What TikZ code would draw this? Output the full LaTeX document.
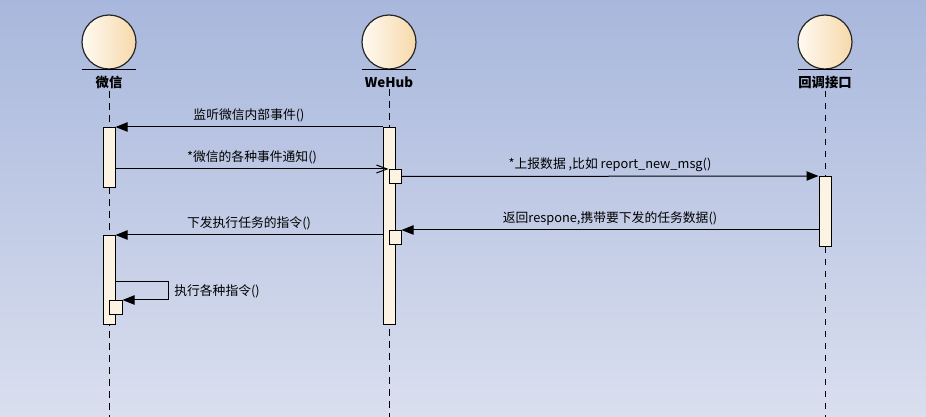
\documentclass[tikz,border=0pt]{standalone}
\usepackage{fontspec}
\setmainfont{Noto Sans CJK SC}
\usetikzlibrary{arrows.meta, positioning}
\definecolor{bgtop}{HTML}{A8B7DC}
\definecolor{bgbot}{HTML}{DADFEF}
\definecolor{headl}{HTML}{FFFAF2}
\definecolor{headr}{HTML}{F6D9AA}
\definecolor{actfill}{HTML}{FDF3E3}

\begin{document}
\begin{tikzpicture}[x=0.75pt,y=-0.75pt,
  actor/.style={circle,draw=black!85,line width=0.9pt,minimum size=40.5pt,inner sep=0pt,
    left color=headl,right color=headr},
  actorname/.style={font=\fontsize{10}{12}\selectfont\bfseries,inner sep=1pt},
  life/.style={dash pattern=on 5pt off 4pt,line width=0.75pt},
  act/.style={draw,fill=actfill,line width=0.75pt,minimum width=9pt,inner sep=0pt,anchor=north},
  msg/.style={line width=0.75pt,-{Triangle[length=9pt,width=7pt]}},
  amsg/.style={line width=0.75pt,-{Straight Barb[length=8pt,width=6pt]}},
  lbl/.style={font=\fontsize{9.6}{11}\selectfont,inner sep=1pt}]
  \fill[top color=bgtop,bottom color=bgbot] (0,0) rectangle (926,417);
  \useasboundingbox (0,0) rectangle (926,417);
  % actors
  \node[actor] (wx)  at (109,42) {};
  \node[actor] (hub) at (389,42) {};
  \node[actor] (cb)  at (825,42) {};
  \node[actorname,below=4pt of wx]  (wxn)  {微信};
  \node[actorname,below=4pt of hub] (hubn) {WeHub};
  \node[actorname,below=4pt of cb]  (cbn)  {回调接口};
  \foreach \a in {wx,hub,cb}
    \draw[line width=0.9pt] ([xshift=-20.5pt]\a.south) -- ([xshift=20.5pt]\a.south);
  % lifelines
  \coordinate (wxe)  at (109,417);
  \coordinate (hube) at (389,417);
  \coordinate (cbe)  at (825,417);
  \draw[life](wxn)--(wxe);\draw[life](hubn)--(hube);\draw[life](cbn)--(cbe);
  % activations
  \node[act,minimum height=45pt]     (wxA)  at (109,127) {};
  \node[act,minimum height=147.75pt] (hubA) at (389,127) {};
  \node[act,minimum height=10.5pt]   (hubB) at (395,169) {};
  \node[act,minimum height=52.5pt]   (cbA)  at (825,176) {};
  \node[act,minimum height=10.5pt]   (hubC) at (395,230) {};
  \node[act,minimum height=66.75pt]  (wxB)  at (109,235) {};
  \node[act,minimum width=9.75pt,minimum height=10.5pt] (wxC) at (115.5,300) {};
  % messages
  \draw[msg] (hubA.north west) -- (wxA.north east)
    node[lbl,midway,above=2pt]{监听微信内部事件()};
  \draw[amsg] (wxA.east |- hubB.north) -- (hubB.north west)
    node[lbl,midway,above=2pt]{*微信的各种事件通知()};
  \draw[msg] (hubB.east) -- (cbA.north west)
    node[lbl,midway,above=2pt]{*上报数据 ,比如 report\_new\_msg()};
  \draw[msg] (cbA.west |- hubC.north) -- (hubC.north east)
    node[lbl,midway,above=2pt]{返回respone,携带要下发的任务数据()};
  \draw[msg] (hubA.west |- wxB.north) -- (wxB.north east)
    node[lbl,midway,above=2pt]{下发执行任务的指令()};
  \draw[msg] ([yshift=-35.25pt]wxB.north east) -- ++(53,0)
    |- node[lbl,pos=0.25,right=3pt]{执行各种指令()} (wxC.north east);
\end{tikzpicture}
\end{document}
